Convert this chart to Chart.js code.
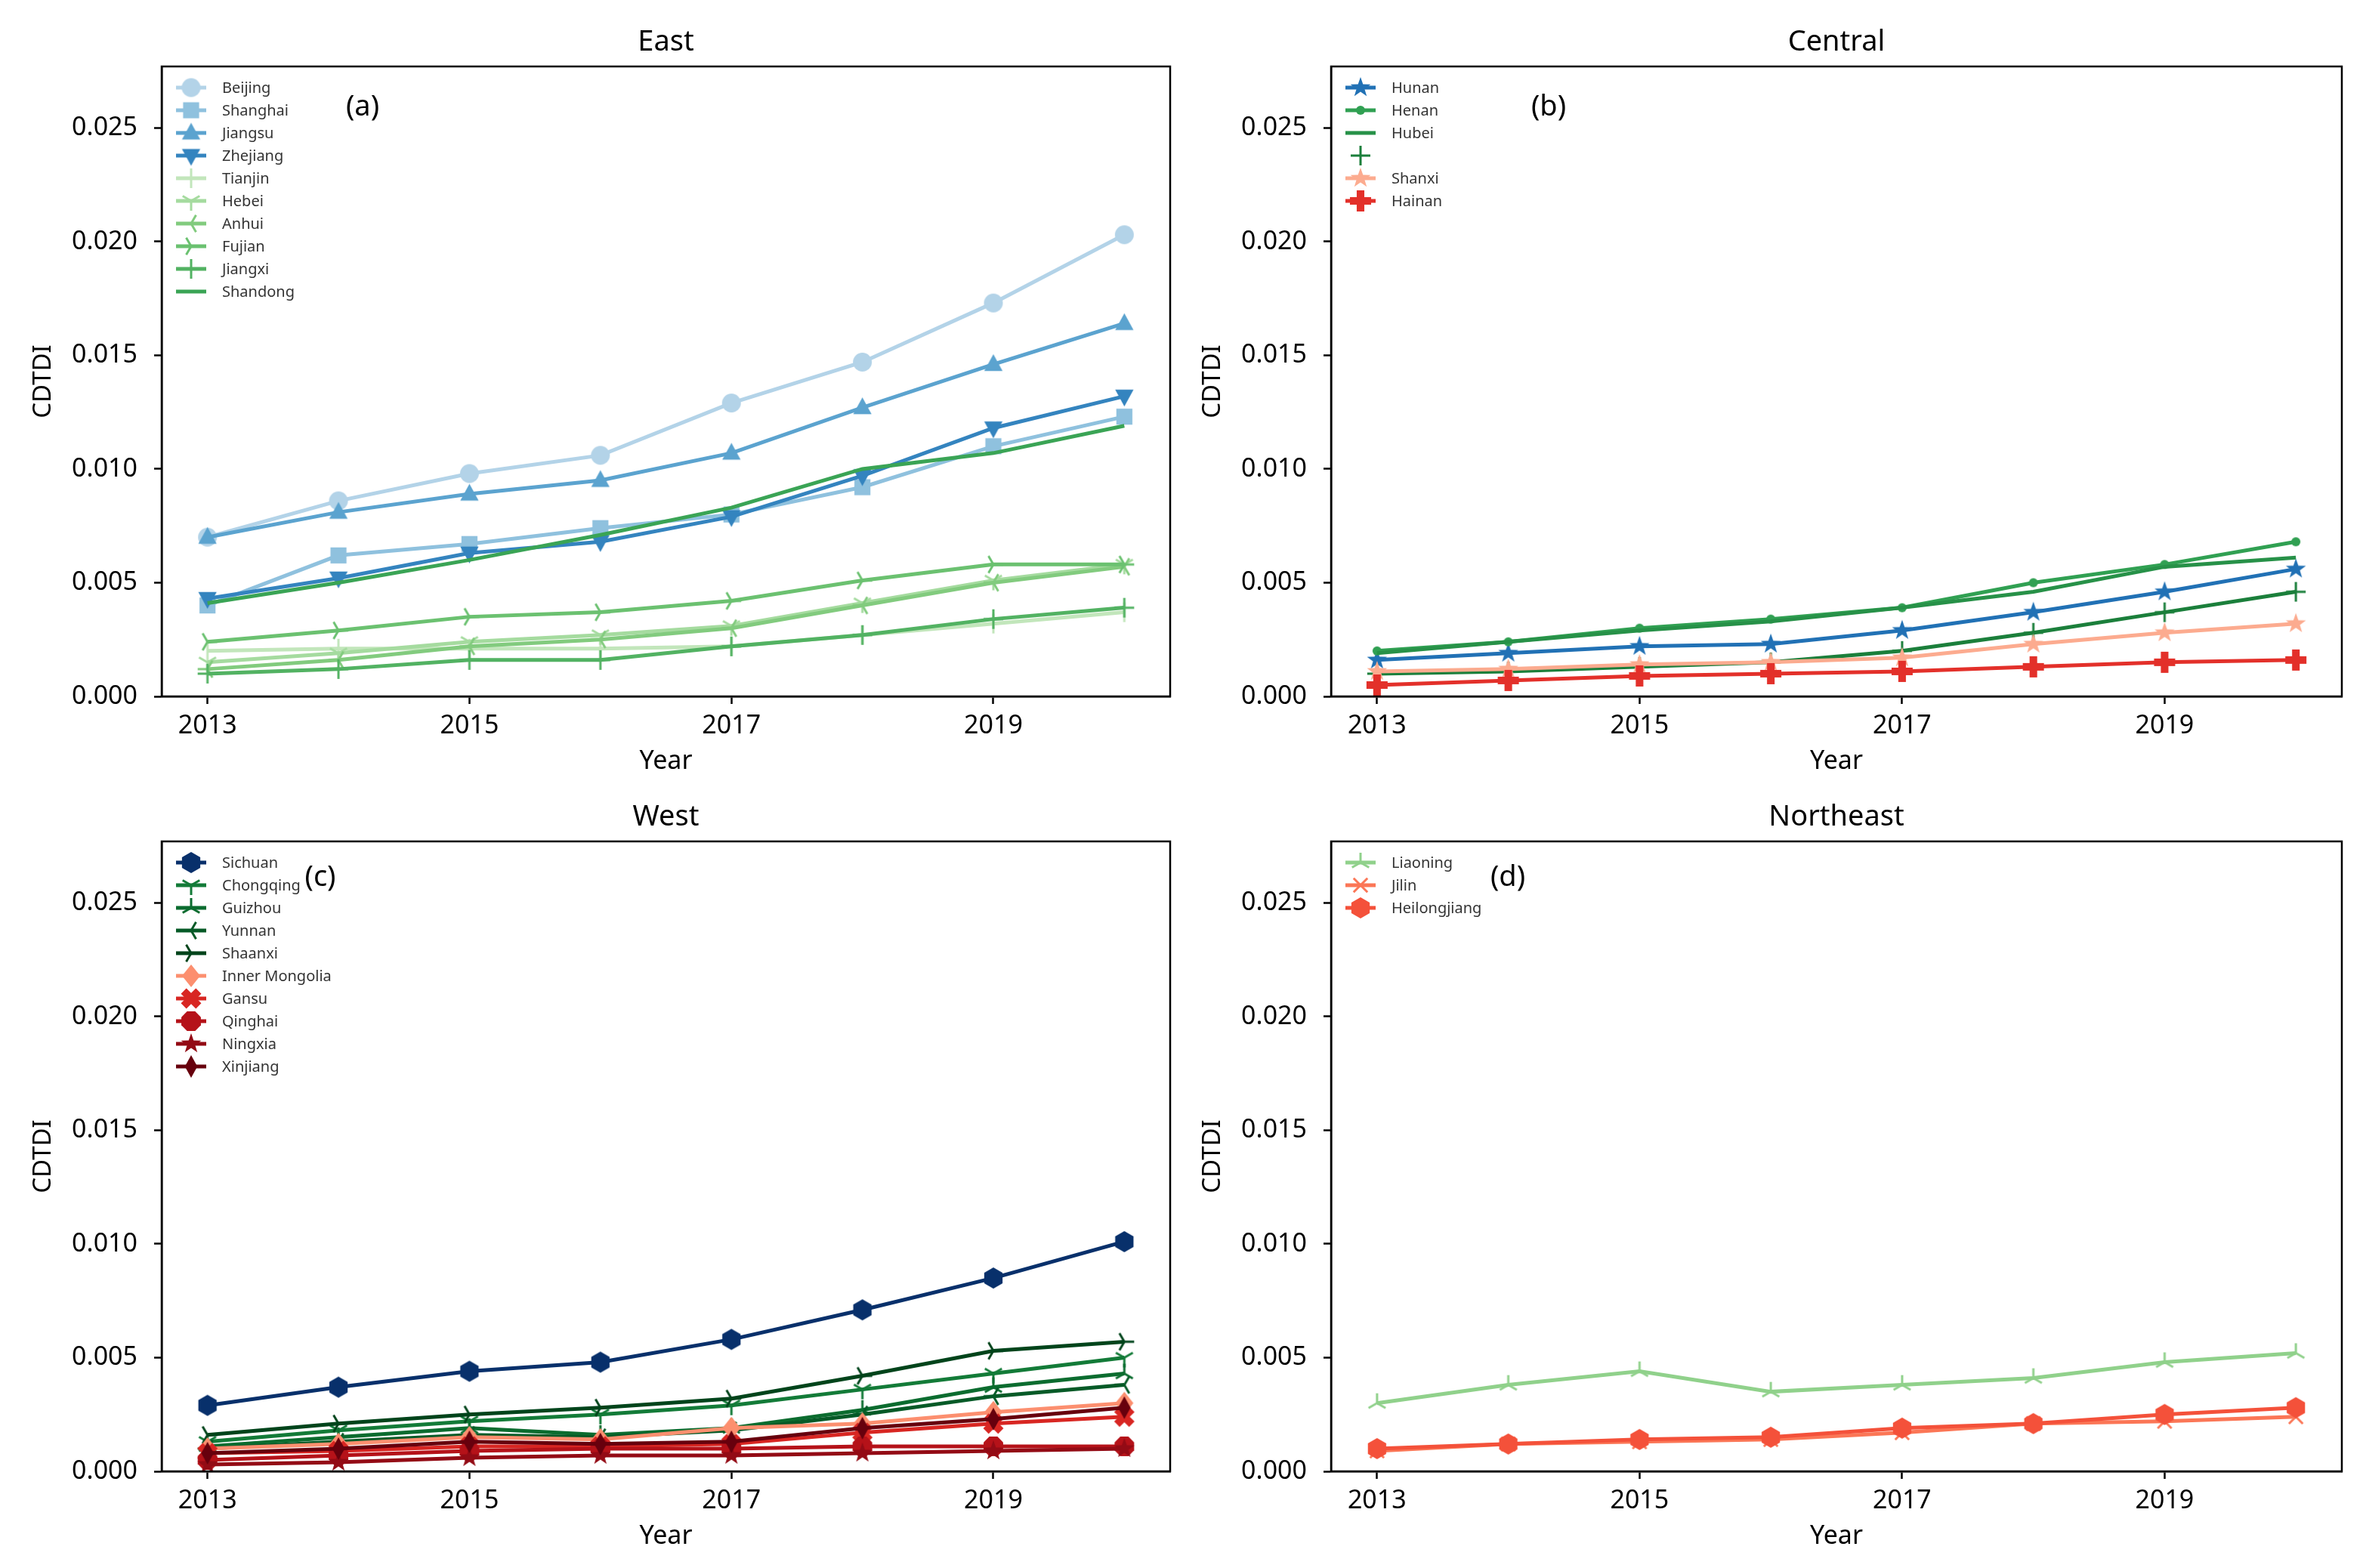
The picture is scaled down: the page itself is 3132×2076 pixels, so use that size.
<!DOCTYPE html>
<html>
<head>
<meta charset="utf-8">
<script src="https://cdn.jsdelivr.net/npm/chart.js@4.4.1/dist/chart.umd.min.js"></script>
<style>
html, body { margin: 0; padding: 0; background: #fff; }
body { width: 3132px; height: 2076px; position: relative; overflow: hidden; }
.panel { position: absolute; width: 1566px; height: 1038px; }
</style>
</head>
<body>
<div class="panel" style="left:0;top:0"><canvas id="east"></canvas></div>
<div class="panel" style="left:1566px;top:0"><canvas id="central"></canvas></div>
<div class="panel" style="left:0;top:1038px"><canvas id="west"></canvas></div>
<div class="panel" style="left:1566px;top:1038px"><canvas id="northeast"></canvas></div>
<script>
// x categories and tick labels
var years = [2013, 2014, 2015, 2016, 2017, 2018, 2019, 2020];
var xTicks = [2013, 2015, 2017, 2019];
var yTicks = [0, 0.005, 0.010, 0.015, 0.020, 0.025];

// East
var beijing  = [0.0070, 0.0086, 0.0098, 0.0106, 0.0129, 0.0147, 0.0173, 0.0203];
var shanghai = [0.0040, 0.0062, 0.0067, 0.0074, 0.0080, 0.0092, 0.0110, 0.0123];
var jiangsu  = [0.0070, 0.0081, 0.0089, 0.0095, 0.0107, 0.0127, 0.0146, 0.0164];
var zhejiang = [0.0043, 0.0052, 0.0063, 0.0068, 0.0079, 0.0097, 0.0118, 0.0132];
var tianjin  = [0.0020, 0.0021, 0.0021, 0.0021, 0.0022, 0.0027, 0.0032, 0.0037];
var hebei    = [0.0015, 0.0019, 0.0024, 0.0027, 0.0031, 0.0041, 0.0051, 0.0058];
var anhui    = [0.0012, 0.0016, 0.0022, 0.0025, 0.0030, 0.0040, 0.0050, 0.0057];
var fujian   = [0.0024, 0.0029, 0.0035, 0.0037, 0.0042, 0.0051, 0.0058, 0.0058];
var jiangxi  = [0.0010, 0.0012, 0.0016, 0.0016, 0.0022, 0.0027, 0.0034, 0.0039];
var shandong = [0.0041, 0.0050, 0.0060, 0.0071, 0.0083, 0.0100, 0.0107, 0.0119];

// Central
var hunan    = [0.0016, 0.0019, 0.0022, 0.0023, 0.0029, 0.0037, 0.0046, 0.0056];
var henan    = [0.0020, 0.0024, 0.0030, 0.0034, 0.0039, 0.0050, 0.0058, 0.0068];
var hubei    = [0.0019, 0.0024, 0.0029, 0.0033, 0.0039, 0.0046, 0.0057, 0.0061];
var unnamed  = [0.0010, 0.0011, 0.0013, 0.0015, 0.0020, 0.0028, 0.0037, 0.0046];
var shanxi   = [0.0011, 0.0012, 0.0014, 0.0015, 0.0017, 0.0023, 0.0028, 0.0032];
var hainan   = [0.0005, 0.0007, 0.0009, 0.0010, 0.0011, 0.0013, 0.0015, 0.0016];

// West
var sichuan   = [0.0029, 0.0037, 0.0044, 0.0048, 0.0058, 0.0071, 0.0085, 0.0101];
var chongqing = [0.0013, 0.0018, 0.0022, 0.0025, 0.0029, 0.0036, 0.0043, 0.0050];
var guizhou   = [0.0011, 0.0015, 0.0019, 0.0016, 0.0019, 0.0027, 0.0037, 0.0043];
var yunnan    = [0.0010, 0.0013, 0.0016, 0.0015, 0.0018, 0.0025, 0.0033, 0.0038];
var shaanxi   = [0.0016, 0.0021, 0.0025, 0.0028, 0.0032, 0.0042, 0.0053, 0.0057];
var innerMongolia = [0.0010, 0.0012, 0.0015, 0.0014, 0.0019, 0.0021, 0.0026, 0.0030];
var gansu     = [0.0008, 0.0009, 0.0011, 0.0011, 0.0012, 0.0017, 0.0021, 0.0024];
var qinghai   = [0.0005, 0.0007, 0.0009, 0.0010, 0.0010, 0.0011, 0.0011, 0.0011];
var ningxia   = [0.0003, 0.0004, 0.0006, 0.0007, 0.0007, 0.0008, 0.0009, 0.0010];
var xinjiang  = [0.0008, 0.0010, 0.0013, 0.0012, 0.0013, 0.0019, 0.0023, 0.0028];

// Northeast
var liaoning     = [0.0030, 0.0038, 0.0044, 0.0035, 0.0038, 0.0041, 0.0048, 0.0052];
var jilin        = [0.0009, 0.0012, 0.0013, 0.0014, 0.0017, 0.0021, 0.0022, 0.0024];
var heilongjiang = [0.0010, 0.0012, 0.0014, 0.0015, 0.0019, 0.0021, 0.0025, 0.0028];

var W = 1566, H = 1038;
var FONT = '"Noto Sans", sans-serif';

// matplotlib-like markers drawn to small canvases
function marker(kind, color, size) {
    var pad = 4, s = size + pad * 2;
    var c = document.createElement('canvas');
    c.width = s; c.height = s;
    var g = c.getContext('2d');
    g.translate(s / 2, s / 2);
    g.fillStyle = color; g.strokeStyle = color; g.lineWidth = 3;
    var r = size / 2;
    function poly(pts) {
        g.beginPath();
        pts.forEach(function(p, i) { if (i) g.lineTo(p[0], p[1]); else g.moveTo(p[0], p[1]); });
        g.closePath(); g.fill();
    }
    function rays(angs) {
        g.beginPath();
        angs.forEach(function(a) { g.moveTo(0, 0); g.lineTo(r * Math.cos(a), -r * Math.sin(a)); });
        g.stroke();
    }
    function reg(n, rot, rr) {
        var p = [];
        for (var i = 0; i < n; i++) { var a = rot + i * 2 * Math.PI / n; p.push([rr * Math.cos(a), -rr * Math.sin(a)]); }
        poly(p);
    }
    function plus(rot) {
        var w = r * 0.36, p = [[-w,-r],[w,-r],[w,-w],[r,-w],[r,w],[w,w],[w,r],[-w,r],[-w,w],[-r,w],[-r,-w],[-w,-w]];
        poly(p.map(function(q) { return [q[0] * Math.cos(rot) - q[1] * Math.sin(rot), q[0] * Math.sin(rot) + q[1] * Math.cos(rot)]; }));
    }
    var PI = Math.PI;
    switch (kind) {
        case 'o': g.beginPath(); g.arc(0, 0, r, 0, 2 * PI); g.fill(); break;
        case '.': g.beginPath(); g.arc(0, 0, r * 0.5, 0, 2 * PI); g.fill(); break;
        case 's': g.fillRect(-r * 0.85, -r * 0.85, r * 1.7, r * 1.7); break;
        case '^': poly([[0, -r], [r * 0.9, r * 0.65], [-r * 0.9, r * 0.65]]); break;
        case 'v': poly([[0, r], [r * 0.9, -r * 0.65], [-r * 0.9, -r * 0.65]]); break;
        case '1': rays([-PI / 2, PI / 6, 5 * PI / 6]); break;
        case '2': rays([PI / 2, -PI / 6, 7 * PI / 6]); break;
        case '3': rays([PI, PI / 3, -PI / 3]); break;
        case '4': rays([0, 2 * PI / 3, -2 * PI / 3]); break;
        case '+': rays([0, PI / 2, PI, -PI / 2]); break;
        case '|': rays([PI / 2, -PI / 2]); break;
        case 'x': rays([PI / 4, 3 * PI / 4, -PI / 4, -3 * PI / 4]); break;
        case '*':
            var p = [];
            for (var i = 0; i < 10; i++) {
                var a = PI / 2 + i * PI / 5, rr = i % 2 ? r * 0.4 : r;
                p.push([rr * Math.cos(a), -rr * Math.sin(a)]);
            }
            poly(p); break;
        case 'P': plus(0); break;
        case 'X': plus(PI / 4); break;
        case 'D': poly([[0, -r], [r * 0.8, 0], [0, r], [-r * 0.8, 0]]); break;
        case 'd': poly([[0, -r], [r * 0.55, 0], [0, r], [-r * 0.55, 0]]); break;
        case 'h': reg(6, PI / 2, r); break;
        case 'H': reg(6, 0, r); break;
        case '8': reg(8, PI / 8, r); break;
    }
    return c;
}

var decor = {
    id: 'decor',
    afterDraw: function(chart, args, o) {
        var ctx = chart.ctx, a = chart.chartArea;
        ctx.save();
        ctx.strokeStyle = '#000'; ctx.lineWidth = 2.5;
        ctx.strokeRect(a.left, a.top, a.right - a.left, a.bottom - a.top);
        ctx.fillStyle = '#000'; ctx.textAlign = 'center'; ctx.textBaseline = 'middle';
        ctx.font = '38px ' + FONT;
        ctx.fillText(o.title, (a.left + a.right) / 2, a.top - 32);
        ctx.font = '34px ' + FONT;
        ctx.fillText('Year', (a.left + a.right) / 2, a.bottom + 86);
        ctx.save();
        ctx.translate(a.left - 156, (a.top + a.bottom) / 2);
        ctx.rotate(-Math.PI / 2);
        ctx.font = '33px ' + FONT;
        ctx.fillText('CDTDI', 0, 0);
        ctx.restore();
        ctx.font = '38px ' + FONT;
        ctx.fillText(o.tag, a.left + o.tagX, a.top + o.tagY);
        // legend
        ctx.font = '20px ' + FONT; ctx.textAlign = 'left';
        chart.data.datasets.forEach(function(ds, i) {
            var y = a.top + 28 + i * 30;
            if (ds.legendLine !== false) {
                ctx.strokeStyle = ds.borderColor; ctx.lineWidth = ds.borderWidth;
                ctx.beginPath(); ctx.moveTo(a.left + 19, y); ctx.lineTo(a.left + 59, y); ctx.stroke();
            }
            if (ds.pointRadius > 0) {
                var m = ds.pointStyle;
                ctx.drawImage(m, a.left + 39 - m.width / 2, y - m.height / 2);
            }
            ctx.fillStyle = '#333';
            ctx.fillText(ds.label, a.left + 80, y + 1);
        });
        ctx.restore();
    }
};

function panel(id, rect, title, tag, tagX, tagY, sets) {
    new Chart(document.getElementById(id), {
        type: 'line',
        data: {
            datasets: sets.map(function(s, i) {
                return {
                    label: s.label,
                    data: years.map(function(yr, k) { return { x: yr, y: s.values[k] }; }),
                    borderColor: s.color,
                    borderWidth: 5,
                    fill: false,
                    tension: 0,
                    pointStyle: s.marker ? marker(s.marker, s.color, s.size || 24) : 'circle',
                    pointRadius: s.marker ? 12 : 0,
                    pointHoverRadius: 0,
                    order: -i,
                    legendLine: s.legendLine
                };
            })
        },
        options: {
            responsive: true,
            maintainAspectRatio: false,
            animation: false,
            devicePixelRatio: 1,
            layout: { padding: { left: 0, top: rect.t, right: W - rect.r, bottom: 0 } },
            plugins: {
                legend: { display: false },
                tooltip: { enabled: false },
                decor: { title: title, tag: tag, tagX: tagX, tagY: tagY }
            },
            scales: {
                x: {
                    type: 'linear', min: 2012.65, max: 2020.35,
                    afterBuildTicks: function(sc) { sc.ticks = xTicks.map(function(v) { return { value: v }; }); },
                    afterFit: function(sc) { sc.height = H - rect.b; },
                    grid: { drawOnChartArea: false, drawTicks: true, tickLength: 10, tickWidth: 2.5, tickColor: '#000' },
                    border: { display: true, color: '#000', width: 2.5 },
                    ticks: { color: '#000', font: { family: 'Noto Sans', size: 34 }, padding: 9, maxRotation: 0, autoSkip: false,
                        callback: function(v) { return String(v); } }
                },
                y: {
                    min: 0, max: 0.0277,
                    afterBuildTicks: function(sc) { sc.ticks = yTicks.map(function(v) { return { value: v }; }); },
                    afterFit: function(sc) { sc.width = rect.l; },
                    grid: { drawOnChartArea: false, drawTicks: true, tickLength: 10, tickWidth: 2.5, tickColor: '#000' },
                    border: { display: true, color: '#000', width: 2.5 },
                    ticks: { color: '#000', font: { family: 'Noto Sans', size: 34 }, padding: 22, autoSkip: false,
                        callback: function(v) { return v.toFixed(3); } }
                }
            }
        },
        plugins: [decor]
    });
}

panel('east', { l: 214, t: 88, r: 1554, b: 922 }, 'East', '(a)', 266, 54, [
    { label: 'Beijing',  values: beijing,  color: '#b3d3e8', marker: 'o', size: 25 },
    { label: 'Shanghai', values: shanghai, color: '#8fc1de', marker: 's', size: 25 },
    { label: 'Jiangsu',  values: jiangsu,  color: '#5ba3cf', marker: '^', size: 27 },
    { label: 'Zhejiang', values: zhejiang, color: '#3484bf', marker: 'v', size: 27 },
    { label: 'Tianjin',  values: tianjin,  color: '#c2e6bb', marker: '|', size: 26 },
    { label: 'Hebei',    values: hebei,    color: '#a5db9f', marker: '1', size: 26 },
    { label: 'Anhui',    values: anhui,    color: '#82cb7e', marker: '3', size: 26 },
    { label: 'Fujian',   values: fujian,   color: '#6bc170', marker: '4', size: 26 },
    { label: 'Jiangxi',  values: jiangxi,  color: '#52b262', marker: '+', size: 26 },
    { label: 'Shandong', values: shandong, color: '#3aa455' }
]);

panel('central', { l: 196, t: 88, r: 1534, b: 922 }, 'Central', '(b)', 288, 54, [
    { label: 'Hunan',  values: hunan,   color: '#2171b5', marker: '*', size: 28 },
    { label: 'Henan',  values: henan,   color: '#30a052', marker: '.', size: 24 },
    { label: 'Hubei',  values: hubei,   color: '#279148' },
    { label: '',       values: unnamed, color: '#1b7f3b', marker: '+', size: 26, legendLine: false },
    { label: 'Shanxi', values: shanxi,  color: '#fcab8f', marker: '*', size: 28 },
    { label: 'Hainan', values: hainan,  color: '#e3302a', marker: 'P', size: 28 }
]);

panel('west', { l: 214, t: 76, r: 1554, b: 910 }, 'West', '(c)', 210, 48, [
    { label: 'Sichuan',        values: sichuan,       color: '#08306b', marker: 'h', size: 28 },
    { label: 'Chongqing',      values: chongqing,     color: '#137b38', marker: '1', size: 26 },
    { label: 'Guizhou',        values: guizhou,       color: '#0b6c2f', marker: '2', size: 26 },
    { label: 'Yunnan',         values: yunnan,        color: '#065a27', marker: '3', size: 26 },
    { label: 'Shaanxi',        values: shaanxi,       color: '#00441b', marker: '4', size: 26 },
    { label: 'Inner Mongolia', values: innerMongolia, color: '#fc8f6f', marker: 'D', size: 30 },
    { label: 'Gansu',          values: gansu,         color: '#d82622', marker: 'X', size: 28 },
    { label: 'Qinghai',        values: qinghai,       color: '#b51219', marker: '8', size: 28 },
    { label: 'Ningxia',        values: ningxia,       color: '#930b15', marker: '*', size: 28 },
    { label: 'Xinjiang',       values: xinjiang,      color: '#67000d', marker: 'd', size: 30 }
]);

panel('northeast', { l: 196, t: 76, r: 1534, b: 910 }, 'Northeast', '(d)', 234, 48, [
    { label: 'Liaoning',     values: liaoning,     color: '#90d18b', marker: '2', size: 26 },
    { label: 'Jilin',        values: jilin,        color: '#fb7656', marker: 'x', size: 26 },
    { label: 'Heilongjiang', values: heilongjiang, color: '#f4513a', marker: 'h', size: 28 }
]);
</script>
</body>
</html>
